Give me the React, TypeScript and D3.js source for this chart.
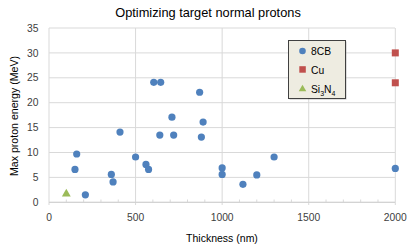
import { useMemo } from "react";
import * as d3 from "d3";

const WIDTH = 415;
const HEIGHT = 249;
const MARGIN = { top: 28, right: 20, bottom: 47, left: 49 };

// thickness (nm) and max proton energy (MeV)
const cbThickness = [150, 160, 210, 360, 370, 410, 500, 560, 575, 605, 645, 640, 710, 720, 870, 880, 890, 1000, 1000, 1120, 1200, 1300, 2000];
const cbEnergy = [6.6, 9.7, 1.5, 5.6, 4.1, 14.1, 9.1, 7.6, 6.6, 24.1, 24.1, 13.5, 17.1, 13.5, 22.1, 13.1, 16.1, 6.9, 5.6, 3.6, 5.5, 9.1, 6.8];
const cuThickness = [2000, 2000];
const cuEnergy = [30, 24];
const siThickness = [100];
const siEnergy = [1.6];

const xTicks = [0, 500, 1000, 1500, 2000];
const yTicks = [0, 5, 10, 15, 20, 25, 30, 35];

const FONT = "'Liberation Sans', Arial, sans-serif";
const BLUE = "#4F81BD";
const RED = "#C0504D";
const GREEN = "#9BBB59";

const App = () => {
  const boundsWidth = WIDTH - MARGIN.left - MARGIN.right;
  const boundsHeight = HEIGHT - MARGIN.top - MARGIN.bottom;

  const xScale = useMemo(
    () => d3.scaleLinear().domain([0, 2000]).range([0, boundsWidth + 0.3]),
    [boundsWidth]
  );
  const yScale = useMemo(
    () => d3.scaleLinear().domain([0, 35]).range([boundsHeight + 0.3, 0]),
    [boundsHeight]
  );

  const minorTicks = d3.range(0, 2001, 100).filter((t) => t % 500 !== 0);
  const tri = d3.symbol().type(d3.symbolTriangle).size(34)() as string;

  return (
    <div style={{ position: "fixed", left: 0, top: 0 }}>
      <svg width={WIDTH} height={HEIGHT} style={{ display: "block", background: "#fff" }}>
        <text x={208} y={17} textAnchor="middle" fontFamily={FONT} fontSize={12.8} fill="#000">
          Optimizing target normal protons
        </text>
        <g transform={`translate(${MARGIN.left},${MARGIN.top})`}>
          {yTicks.map((t) => (
            <g key={"y" + t}>
              <line x1={0} x2={boundsWidth} y1={yScale(t)} y2={yScale(t)} stroke="#D9D9D9" strokeWidth={1} />
              <text x={-10.5} y={yScale(t) + 3.6} textAnchor="end" fontFamily={FONT} fontSize={10.3} fill="#404040">
                {t}
              </text>
            </g>
          ))}
          {xTicks.map((t) => (
            <g key={"x" + t}>
              <line x1={xScale(t)} x2={xScale(t)} y1={0} y2={boundsHeight + 3} stroke="#D9D9D9" strokeWidth={1} />
              <text x={xScale(t)} y={boundsHeight + 19} textAnchor="middle" fontFamily={FONT} fontSize={10.3} fill="#404040">
                {t}
              </text>
            </g>
          ))}
          {minorTicks.map((t) => (
            <line key={"m" + t} x1={xScale(t)} x2={xScale(t)} y1={boundsHeight - 2.5} y2={boundsHeight} stroke="#D9D9D9" />
          ))}
          <line x1={0} x2={boundsWidth} y1={yScale(0)} y2={yScale(0)} stroke="#D0D0D0" />

          {cbThickness.map((x, i) => (
            <circle key={"c" + i} cx={xScale(x)} cy={yScale(cbEnergy[i])} r={3.6} fill={BLUE} />
          ))}
          {cuThickness.map((x, i) => (
            <rect key={"r" + i} x={xScale(x) - 3.5} y={yScale(cuEnergy[i]) - 3.5} width={7} height={7} fill={RED} />
          ))}
          {siThickness.map((x, i) => (
            <path key={"t" + i} d={tri} transform={`translate(${xScale(x)},${yScale(siEnergy[i]) - 0.5})`} fill={GREEN} />
          ))}
        </g>

        <text
          transform={`translate(18,${MARGIN.top + boundsHeight / 2 + 1}) rotate(-90)`}
          textAnchor="middle"
          fontFamily={FONT}
          fontSize={10.6}
          fill="#000"
        >
          Max proton energy (MeV)
        </text>
        <text x={222} y={242} textAnchor="middle" fontFamily={FONT} fontSize={10.5} fill="#000">
          Thickness (nm)
        </text>

        <g transform="translate(288.5,40.5)">
          <rect x={1} y={1} width={57} height={58} fill="#7F7F7F" opacity={0.5} />
          <rect x={0} y={0} width={57} height={58} fill="#EEECE1" stroke="#404040" strokeWidth={1} />
          <circle cx={14} cy={10.5} r={3.3} fill={BLUE} />
          <text x={22.5} y={14} fontFamily={FONT} fontSize={10.3} fill="#000">8CB</text>
          <rect x={10.8} y={25.7} width={6.5} height={6.5} fill={RED} />
          <text x={22.5} y={33} fontFamily={FONT} fontSize={10.3} fill="#000">Cu</text>
          <path d={tri} transform="translate(14,48.5) scale(0.85)" fill={GREEN} />
          <text x={22.5} y={52.5} fontFamily={FONT} fontSize={10.3} fill="#000">
            Si<tspan fontSize={7} dy={2.5}>3</tspan>
            <tspan dy={-2.5}>N</tspan>
            <tspan fontSize={7} dy={2.5}>4</tspan>
          </text>
        </g>
      </svg>
    </div>
  );
};

export default App;
